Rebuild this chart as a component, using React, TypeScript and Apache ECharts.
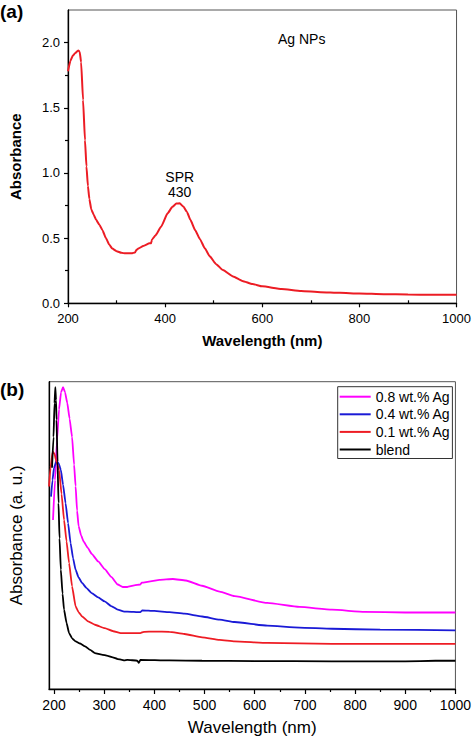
import React, { useEffect, useRef } from "react";
import * as echarts from "echarts";

// ---- Data ----
// (a) Ag NPs absorbance spectrum: [wavelength nm, absorbance]
const agNpsSpectrum: [number, number][] = [
  [200, 1.78], [205, 1.86], [210, 1.9], [215, 1.92], [221, 1.94], [224, 1.93],
  [227, 1.85], [231, 1.56], [235, 1.25], [238, 1.05], [241, 0.9], [244, 0.8],
  [248, 0.72], [253, 0.68], [258, 0.64], [265, 0.6], [271, 0.56], [278, 0.5],
  [285, 0.45], [291, 0.42], [300, 0.4], [310, 0.387], [318, 0.383], [331, 0.383],
  [338, 0.39], [341, 0.41], [345, 0.42], [355, 0.44], [368, 0.46], [371, 0.46],
  [373, 0.49], [380, 0.52], [392, 0.59], [405, 0.69], [415, 0.74], [423, 0.765],
  [430, 0.767], [438, 0.74], [445, 0.7], [452, 0.64], [462, 0.56], [472, 0.49],
  [482, 0.42], [492, 0.36], [505, 0.3], [519, 0.255], [540, 0.205], [559, 0.172],
  [580, 0.148], [600, 0.13], [640, 0.11], [680, 0.095], [720, 0.085], [760, 0.08],
  [800, 0.075], [850, 0.07], [900, 0.067], [950, 0.065], [1000, 0.065],
];

// (b) spectra in arbitrary units (0-100 of plot height)
const seriesNames = ["0.8 wt.% Ag", "0.4 wt.% Ag", "0.1 wt.% Ag", "blend"];
const seriesColors = ["#ff00ff", "#1a1ad6", "#ee1c24", "#000000"];

const ag08: [number, number][] = [
  [198, 55], [202, 68], [206, 81], [210, 91], [214, 96.5], [218, 98.2], [222, 96.5],
  [226.5, 93], [231, 88], [236, 82], [240, 73], [243, 66], [246, 58], [249, 53],
  [254, 50], [259, 48], [267, 46], [275, 44], [288, 41.5], [301, 39], [314, 36.5],
  [327, 34], [337, 33.2], [346, 33.2], [360, 33.7], [372, 34], [375, 34.6], [392, 35],
  [410, 35.5], [437, 35.8], [463, 35.3], [495, 33.6], [530, 31.7], [560, 30.2],
  [625, 28], [689, 26.7], [754, 25.8], [819, 25.1], [900, 24.9], [1000, 24.9],
];
const ag04: [number, number][] = [
  [194, 62.6], [197, 68], [200, 72], [205, 74.3], [209, 73.5], [213.6, 71.3],
  [218, 66.5], [223, 60.5], [228, 54], [233, 47.5], [238, 42.5], [243, 38.8],
  [249, 36.3], [256, 34.5], [265, 32.8], [275, 31.2], [288, 29.8], [301, 28.5],
  [314, 27], [327, 25.8], [340, 25.2], [346, 25.2], [372, 25], [376, 25.6],
  [400, 25.4], [430, 25], [460, 24.5], [495, 23.6], [530, 22.6], [560, 21.8],
  [625, 20.6], [689, 20], [754, 19.6], [850, 19.3], [1000, 19.1],
];
const ag01: [number, number][] = [
  [190, 65.9], [193, 72], [197.4, 77.2], [201, 76.5], [204, 74.5], [207, 73],
  [210, 71.3], [215, 63.5], [220, 55], [225, 48], [230, 41], [236, 33.4],
  [243, 26.9], [249, 25], [256, 23.6], [268, 22], [281.5, 20.9], [301, 19.8],
  [318, 18.8], [333, 18.2], [366, 18.2], [372, 18.2], [379, 18.6], [400, 18.7],
  [430, 18.6], [460, 17.9], [495, 16.8], [530, 16], [560, 15.5], [625, 15],
  [754, 14.7], [1000, 14.7],
];
const blend: [number, number][] = [
  [196, 72], [199, 82], [201, 93], [202.6, 98.2], [204, 94], [205, 87.6], [207, 74],
  [209, 60.5], [211, 49], [213.6, 38.8], [217, 31], [220, 25.8], [225, 21.5],
  [230, 18.2], [236, 16.5], [243, 15.5], [252, 14.8], [262, 13.9], [272, 12.7],
  [281.5, 11.7], [295, 11.2], [307, 10.8], [317, 10.3], [327, 9.75], [335, 9.5],
  [340, 9.3], [346, 9.5], [366, 9.2], [369, 8.5], [372, 9.5], [430, 9.3],
  [495, 9.2], [600, 9.1], [754, 9], [900, 9], [960, 9.2], [1000, 9.2],
];
const bottomData = [ag08, ag04, ag01, blend];

// Ticks
const topXTicks = [200, 400, 600, 800, 1000];
const topXMinor = [300, 500, 700, 900];
const topYTicks = [0, 0.5, 1, 1.5, 2];
const topYMinor = [0.25, 0.75, 1.25, 1.75];
const bottomXTicks = [200, 300, 400, 500, 600, 700, 800, 900, 1000];
const bottomXMinor = [250, 350, 450, 550, 650, 750, 850, 950];

const FONT = "'Liberation Sans', Arial, Helvetica, sans-serif";

export default function App() {
  const ref = useRef<HTMLDivElement>(null);
  useEffect(() => {
    if (!ref.current) return;
    const chart = echarts.init(ref.current, undefined, { renderer: "svg" });
    const axisLine = { show: true, lineStyle: { color: "#000", width: 1.3 } };
    const tickStyle = { color: "#000", width: 1.2 };
    const plain = (v: number) => String(v);
    const option: any = {
      animation: false,
      backgroundColor: "#fff",
      textStyle: { fontFamily: FONT },
      grid: [
        { left: 61, top: 10, width: 398.3, height: 293.3, show: true, borderColor: "#555", borderWidth: 1 },
        { left: 42.7, top: 381.7, width: 417.3, height: 307.6, show: true, borderColor: "#555", borderWidth: 1 },
      ],
      xAxis: [
        {
          gridIndex: 0, type: "value", min: 200, max: 1000, position: "bottom",
          axisLine,
          axisTick: { show: true, customValues: topXTicks, length: 4, lineStyle: tickStyle },
          axisLabel: {
            show: true, customValues: topXTicks, margin: 9, fontSize: 13, color: "#000", fontFamily: FONT,
            formatter: plain,
          },
          splitLine: { show: false },
          name: "Wavelength (nm)", nameLocation: "middle", nameGap: 30,
          nameTextStyle: { fontSize: 15, fontWeight: "bold", color: "#000", fontFamily: FONT },
        },
        {
          gridIndex: 0, type: "value", min: 200, max: 1000, position: "bottom",
          axisLine: { show: false },
          axisTick: { show: true, inside: true, customValues: topXMinor, length: 3, lineStyle: tickStyle },
          axisLabel: { show: false },
          splitLine: { show: false },
        },
        {
          gridIndex: 1, type: "value", min: 190, max: 1000, position: "bottom",
          axisLine,
          axisTick: { show: true, customValues: bottomXTicks, length: 5, lineStyle: tickStyle },
          axisLabel: {
            show: true, customValues: bottomXTicks, margin: 9, fontSize: 14, color: "#000", fontFamily: FONT,
            formatter: plain,
          },
          splitLine: { show: false },
          name: "Wavelength (nm)", nameLocation: "middle", nameGap: 30,
          nameTextStyle: { fontSize: 17, color: "#000", fontFamily: FONT },
        },
        {
          gridIndex: 1, type: "value", min: 190, max: 1000, position: "bottom",
          axisLine: { show: false },
          axisTick: { show: true, customValues: bottomXMinor, length: 3, lineStyle: tickStyle },
          axisLabel: { show: false },
          splitLine: { show: false },
        },
      ],
      yAxis: [
        {
          gridIndex: 0, type: "value", min: 0, max: 2.25, position: "left",
          axisLine,
          axisTick: { show: true, customValues: topYTicks, length: 4, lineStyle: tickStyle },
          axisLabel: {
            show: true, customValues: topYTicks, margin: 8, fontSize: 13, color: "#000", fontFamily: FONT,
            formatter: (v: number) => v.toFixed(1),
          },
          splitLine: { show: false },
          name: "Absorbance", nameLocation: "middle", nameGap: 45,
          nameTextStyle: { fontSize: 15, fontWeight: "bold", color: "#000", fontFamily: FONT },
        },
        {
          gridIndex: 0, type: "value", min: 0, max: 2.25, position: "left",
          axisLine: { show: false },
          axisTick: { show: true, customValues: topYMinor, length: 3, lineStyle: tickStyle },
          axisLabel: { show: false },
          splitLine: { show: false },
        },
        {
          gridIndex: 1, type: "value", min: 0, max: 100, position: "left",
          axisLine,
          axisTick: { show: false },
          axisLabel: { show: false },
          splitLine: { show: false },
          name: "Absorbance (a. u.)", nameLocation: "middle", nameGap: 24,
          nameTextStyle: { fontSize: 17, color: "#000", fontFamily: FONT },
        },
      ],
      legend: {
        data: seriesNames,
        orient: "vertical",
        left: 337.7,
        top: 386.7,
        icon: "rect",
        itemWidth: 31,
        itemHeight: 2,
        itemGap: 1.6,
        padding: [2, 2, 1, 2],
        borderColor: "#333",
        borderWidth: 1,
        backgroundColor: "#fff",
        textStyle: { fontSize: 14, lineHeight: 16, color: "#000", fontFamily: FONT },
      },
      graphic: [
        { type: "text", left: 0, top: 2, style: { text: "(a)", font: `bold 19px ${FONT}`, fill: "#000" } },
        { type: "text", left: 0, top: 380, style: { text: "(b)", font: `bold 19px ${FONT}`, fill: "#000" } },
        { type: "text", left: 278, top: 32, style: { text: "Ag NPs", font: `14px ${FONT}`, fill: "#000" } },
      ],
      series: [
        {
          type: "line", name: "Ag NPs", xAxisIndex: 0, yAxisIndex: 0,
          data: agNpsSpectrum, showSymbol: false, smooth: 0.15, smoothMonotone: "x",
          color: "#ec1c24", lineStyle: { color: "#ec1c24", width: 2 },
          markPoint: {
            symbol: "circle", symbolSize: 0,
            data: [{ coord: [430, 0.767] }],
            label: {
              show: true, position: "top", distance: 4, formatter: "SPR\n430",
              fontSize: 14, lineHeight: 15, color: "#000", fontFamily: FONT,
            },
          },
        },
        ...seriesNames.map((name, i) => ({
          type: "line", name, xAxisIndex: 2, yAxisIndex: 2,
          data: bottomData[i], showSymbol: false, smooth: 0.15, smoothMonotone: "x",
          color: seriesColors[i],
          itemStyle: { color: seriesColors[i] },
          lineStyle: { color: seriesColors[i], width: 1.8 },
        })),
      ],
    };
    chart.setOption(option);
    return () => chart.dispose();
  }, []);
  return (
    <div
      ref={ref}
      style={{ position: "absolute", left: 0, top: 0, width: 474, height: 737, background: "#fff" }}
    />
  );
}
